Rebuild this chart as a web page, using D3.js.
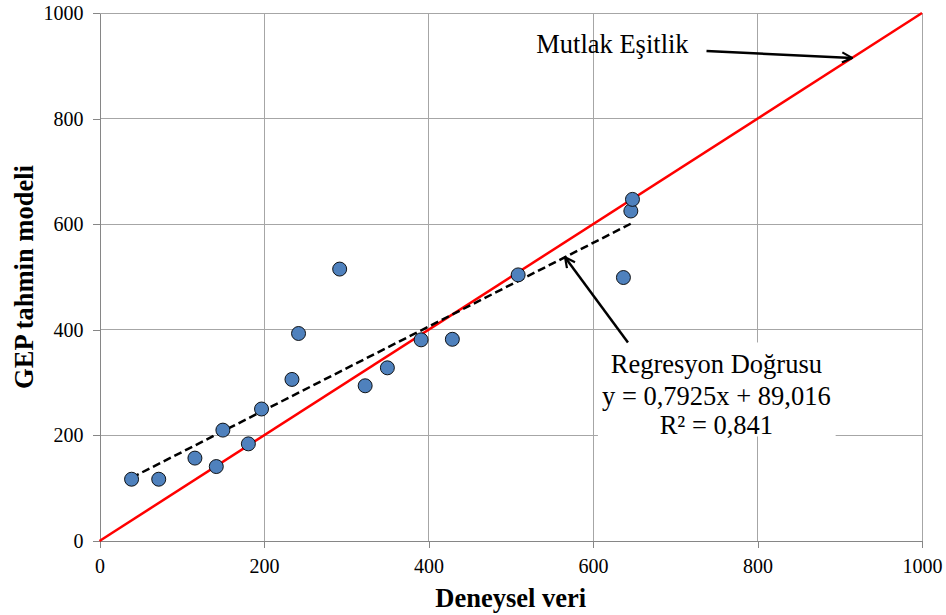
<!DOCTYPE html>
<html><head><meta charset="utf-8">
<script src="https://cdn.jsdelivr.net/npm/d3@7"></script>
<style>
body{margin:0;background:#fff;}
svg{display:block;font-family:"Liberation Serif","Times New Roman",serif;}
svg text{font-family:"Liberation Serif","Times New Roman",serif !important;}
</style></head>
<body><svg id="chart" width="946" height="615"></svg>
<script>
// Data
const deneysel = [39, 72, 116, 142, 150, 181, 197, 234, 242, 292, 323, 350, 391, 429, 509, 637, 646, 648];
const gepTahmin = [117, 117, 157, 141, 210, 184, 250, 306, 393, 515, 294, 328, 381, 382, 504, 499, 625, 647];
const xTicks = [0, 200, 400, 600, 800, 1000];
const yTicks = [0, 200, 400, 600, 800, 1000];
const regSlope = 0.7925, regIntercept = 89.016;
const equalityLine = [0, 1000];
const labels = {
  x: "Deneysel veri",
  y: "GEP tahmin modeli",
  mutlak: "Mutlak Eşitlik",
  reg: ["Regresyon Doğrusu", "y = 0,7925x + 89,016", "R² = 0,841"]
};

const svg = d3.select("#chart");
const m = {left: 99.5, right: 946 - 922, top: 13, bottom: 615 - 541};
const W = 946, H = 615;
const x = d3.scaleLinear().domain([0, 1000]).range([m.left, W - m.right]);
const y = d3.scaleLinear().domain([0, 1000]).range([H - m.bottom, m.top]);

const defs = svg.append("defs");
defs.append("marker").attr("id", "arr").attr("viewBox", "0 0 12 12")
  .attr("refX", 11).attr("refY", 6).attr("markerWidth", 12).attr("markerHeight", 12)
  .attr("markerUnits", "userSpaceOnUse").attr("orient", "auto")
  .append("path").attr("d", "M1,1 L11,6 L1,11").attr("fill", "none")
  .attr("stroke", "#000").attr("stroke-width", 2.2);

// gridlines
const grid = svg.append("g").attr("stroke", "#a6a6a6").attr("stroke-width", 1).attr("shape-rendering", "crispEdges");
grid.selectAll(".gx").data(xTicks.slice(1)).join("line")
  .attr("x1", d => x(d)).attr("x2", d => x(d)).attr("y1", y(0)).attr("y2", y(1000));
grid.selectAll(".gy").data(yTicks.slice(1)).join("line")
  .attr("x1", x(0)).attr("x2", x(1000)).attr("y1", d => y(d)).attr("y2", d => y(d));

// axes
const fmt = d3.format("d");
const ax = svg.append("g").attr("transform", `translate(0,${y(0)})`)
  .call(d3.axisBottom(x).tickValues(xTicks).tickFormat(fmt).tickSize(7).tickPadding(11).tickSizeOuter(0));
const ay = svg.append("g").attr("transform", `translate(${x(0)},0)`)
  .call(d3.axisLeft(y).tickValues(yTicks).tickFormat(fmt).tickSize(7).tickPadding(9).tickSizeOuter(0));
[ax, ay].forEach(g => {
  g.attr("font-family", null).attr("font-size", null);
  g.select(".domain").attr("stroke", "#868686").attr("stroke-width", 1);
  g.selectAll(".tick line").attr("stroke", "#868686");
  g.selectAll("text").style("font-family", "'Liberation Serif', serif").style("font-size", "20px").attr("fill", "#000");
  g.attr("shape-rendering", "crispEdges");
});

// text box (white background for regression label)
svg.append("rect").attr("x", x(606)).attr("y", y(376)).attr("width", x(895) - x(606))
  .attr("height", y(198) - y(376)).attr("fill", "#fff");

// equality line
svg.append("line").attr("x1", x(equalityLine[0])).attr("y1", y(equalityLine[0]))
  .attr("x2", x(equalityLine[1])).attr("y2", y(equalityLine[1]))
  .attr("stroke", "#ff0000").attr("stroke-width", 2.5);

// regression line
const xmin = d3.min(deneysel), xmax = d3.max(deneysel);
svg.append("line").attr("x1", x(xmin)).attr("y1", y(regSlope * xmin + regIntercept))
  .attr("x2", x(xmax)).attr("y2", y(regSlope * xmax + regIntercept))
  .attr("stroke", "#000").attr("stroke-width", 2.5).attr("stroke-dasharray", "8,4");

// points
svg.selectAll(".pt").data(deneysel).join("circle")
  .attr("cx", d => x(d)).attr("cy", (d, i) => y(gepTahmin[i])).attr("r", 7)
  .attr("fill", "#4f81bd").attr("stroke", "#000").attr("stroke-width", 0.9);

// annotations
svg.append("text").attr("x", x(531)).attr("y", y(924)).attr("font-size", 26.5)
  .text(labels.mutlak);
svg.append("line").attr("x1", x(738)).attr("y1", y(928)).attr("x2", x(915)).attr("y2", y(915))
  .attr("stroke", "#000").attr("stroke-width", 2.5).attr("marker-end", "url(#arr)");

svg.append("line").attr("x1", x(642.5)).attr("y1", y(376)).attr("x2", x(566)).attr("y2", y(regSlope * 566 + regIntercept))
  .attr("stroke", "#000").attr("stroke-width", 2.5).attr("marker-end", "url(#arr)");
const rt = svg.append("text").attr("text-anchor", "middle").attr("font-size", 26.5);
labels.reg.forEach((t, i) => {
  rt.append("tspan").attr("x", x(750)).attr("y", y([319, 257, 202][i])).text(t);
});

// axis titles
svg.append("text").attr("x", x(500)).attr("y", 607).attr("text-anchor", "middle")
  .attr("font-size", 26.5).attr("font-weight", "bold").text(labels.x);
svg.append("text").attr("transform", `translate(33,${(y(0) + y(1000)) / 2}) rotate(-90)`).attr("text-anchor", "middle")
  .attr("font-size", 26.5).attr("font-weight", "bold").text(labels.y);
</script></body></html>
